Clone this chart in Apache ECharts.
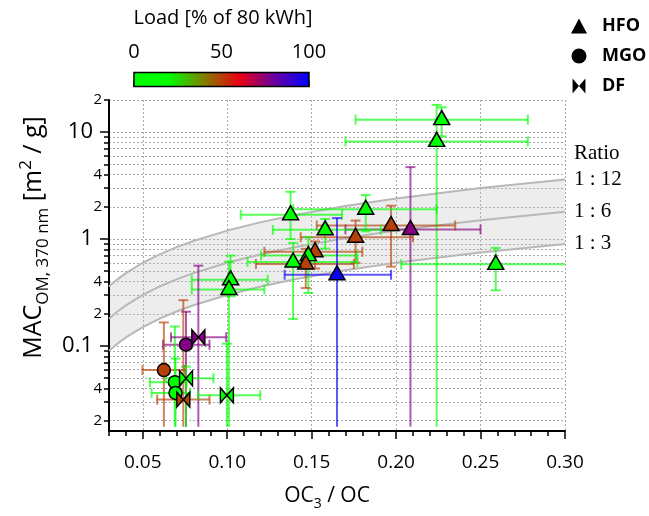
<!DOCTYPE html>
<html lang="en">
<head>
    <meta charset="utf-8">
    <title>MAC vs OC3/OC</title>
    <script src="https://cdn.jsdelivr.net/npm/echarts@6/dist/echarts.min.js"></script>
</head>
<body style="margin:0;">

<div id="main" style="width:649px;height:516px;"></div>

<script type="text/javascript">

    // HFO (triangles)
    var hfoOC   = [0.227, 0.224, 0.2085, 0.197, 0.182, 0.1375, 0.158, 0.176, 0.152, 0.148, 0.1465, 0.139, 0.165, 0.102, 0.101, 0.259];
    var hfoMAC  = [13.1, 8.2, 1.23, 1.34, 1.90, 1.69, 1.22, 1.04, 0.76, 0.70, 0.585, 0.61, 0.463, 0.416, 0.337, 0.58];
    var hfoLoad = [10, 10, 76, 50, 10, 10, 10, 50, 50, 10, 50, 10, 98, 10, 10, 10];
    var hfoOCRange  = [[0.176,0.278],[0.170,0.278],[0.170,0.250],[0.153,0.235],[0.139,0.224],[0.108,0.168],[0.127,0.191],[0.1435,0.210],
                       [0.122,0.180],[0.120,0.177],[0.117,0.175],[0.112,0.177],[0.134,0.197],[0.079,0.124],[0.079,0.122],[0.203,0.32]];
    var hfoMACRange = [[9.15,17.1],[0.0175,18.0],[0.0175,4.71],[0.552,2.05],[1.18,2.58],[1.0,2.77],[0.814,1.54],[0.60,1.49],
                       [0.53,0.95],[0.313,1.04],[0.348,0.81],[0.179,0.92],[0.0175,1.57],[0.292,0.70],[0.0175,0.614],[0.332,0.826]];

    // MGO (circles)
    var mgoOC   = [0.0756, 0.0625, 0.069, 0.0694];
    var mgoMAC  = [0.1026, 0.0594, 0.0458, 0.0363];
    var mgoLoad = [76, 50, 10, 10];
    var mgoOCRange  = [[0.062,0.0895],[0.0498,0.075],[0.0542,0.076],[0.0552,0.078]];
    var mgoMACRange = [[0.0175,0.209],[0.0175,0.166],[0.0175,0.152],[0.0175,0.0762]];

    // DF (bowties)
    var dfOC   = [0.0829, 0.0756, 0.074, 0.0998];
    var dfMAC  = [0.1205, 0.0499, 0.0315, 0.0345];
    var dfLoad = [76, 10, 50, 10];
    var dfOCRange  = [[0.0667,0.0994],[0.0637,0.0918],[0.0585,0.0895],[0.0827,0.1196]];
    var dfMACRange = [[0.0175,0.564],[0.0175,0.064],[0.0175,0.268],[0.0175,0.105]];

    // ratio curves 1:3, 1:6, 1:12
    var ratioX  = [0.03, 0.035, 0.04, 0.05, 0.06, 0.07, 0.08, 0.10, 0.12, 0.14, 0.17, 0.20, 0.25, 0.30];
    var ratio3  = [0.09, 0.105, 0.12, 0.15, 0.18, 0.21, 0.24, 0.30, 0.36, 0.42, 0.51, 0.60, 0.75, 0.90];
    var ratio6  = [0.18, 0.21, 0.24, 0.30, 0.36, 0.42, 0.48, 0.60, 0.72, 0.84, 1.02, 1.20, 1.50, 1.80];
    var ratio12 = [0.36, 0.42, 0.48, 0.60, 0.72, 0.84, 0.96, 1.20, 1.44, 1.68, 2.04, 2.40, 3.00, 3.60];

    // ticks
    var xMajorTicks = [0.05, 0.10, 0.15, 0.20, 0.25, 0.30];
    var xMinorTicks = [0.03,0.04,0.06,0.07,0.08,0.09,0.11,0.12,0.13,0.14,0.16,0.17,0.18,0.19,
                       0.21,0.22,0.23,0.24,0.26,0.27,0.28,0.29];
    var yMajorTicks = [0.1, 1, 10];
    var yMinorTicks = [0.02,0.03,0.04,0.05,0.06,0.07,0.08,0.09,0.2,0.3,0.4,0.5,0.6,0.7,0.8,0.9,
                       2,3,4,5,6,7,8,9,20];
    var yLabelVals = [0.02, 0.04, 0.1, 0.2, 0.4, 1, 2, 4, 10, 20];
    var yLabelText = ['2', '4', '0.1', '2', '4', '1', '2', '4', '10', '2'];

    // load colour scale (0 .. 100 %)
    var loadColors = ['#00ff00', '#00ff00', '#7f8000', '#ec0012', '#6a00a0', '#0000ff'];

    var FONT = 'Open Sans';
    var bowtie = 'path://M0,0L6,7L0,14ZM12,0L6,7L12,14Z';

    function rows(xs, ys, loads, xr, yr) {
        var out = [];
        for (var i = 0; i < xs.length; i++) {
            out.push([xs[i], ys[i], loads[i], xr[i][0], xr[i][1], yr[i][0], yr[i][1]]);
        }
        return out;
    }
    function points(xs, ys, loads) {
        var out = [];
        for (var i = 0; i < xs.length; i++) out.push([xs[i], ys[i], loads[i]]);
        return out;
    }

    function renderErr(params, api) {
        var x = api.value(0), y = api.value(1);
        var l = api.coord([api.value(3), y]);
        var r = api.coord([api.value(4), y]);
        var b = api.coord([x, api.value(5)]);
        var t = api.coord([x, api.value(6)]);
        var st = {stroke: api.visual('color'), lineWidth: 2, opacity: 0.65};
        var c = 5;
        var kids = [
            {type: 'line', shape: {x1: l[0], y1: l[1], x2: r[0], y2: r[1]}, style: st},
            {type: 'line', shape: {x1: b[0], y1: b[1], x2: t[0], y2: t[1]}, style: st},
            {type: 'line', shape: {x1: l[0], y1: l[1] - c, x2: l[0], y2: l[1] + c}, style: st},
            {type: 'line', shape: {x1: r[0], y1: r[1] - c, x2: r[0], y2: r[1] + c}, style: st},
            {type: 'line', shape: {x1: t[0] - c, y1: t[1], x2: t[0] + c, y2: t[1]}, style: st}
        ];
        if (api.value(5) >= 0.02) {
            kids.push({type: 'line', shape: {x1: b[0] - c, y1: b[1], x2: b[0] + c, y2: b[1]}, style: st});
        }
        return {type: 'group', children: kids};
    }

    function renderBand(params, api) {
        var pts = [];
        for (var i = 0; i < ratioX.length; i++) pts.push(api.coord([ratioX[i], ratio12[i]]));
        for (var j = ratioX.length - 1; j >= 0; j--) pts.push(api.coord([ratioX[j], ratio3[j]]));
        return {type: 'polygon', shape: {points: pts}, style: {fill: 'rgba(190,190,190,0.28)', stroke: null}};
    }

    function renderBar(params, api) {
        var p0 = api.coord([0, 1]);
        var p1 = api.coord([100, 0]);
        var stops = [];
        for (var i = 0; i < loadColors.length; i++) {
            stops.push({offset: i / (loadColors.length - 1), color: loadColors[i]});
        }
        return {
            type: 'rect',
            shape: {x: p0[0], y: p0[1], width: p1[0] - p0[0], height: p1[1] - p0[1]},
            style: {fill: new echarts.graphic.LinearGradient(0, 0, 1, 0, stops), stroke: '#000', lineWidth: 1.5}
        };
    }

    function ratioLine(name, data) {
        var d = [];
        for (var i = 0; i < ratioX.length; i++) d.push([ratioX[i], data[i]]);
        return {
            name: name, type: 'line', data: d, showSymbol: false, silent: true, z: 1,
            lineStyle: {color: '#b8b8b8', width: 2},
            endLabel: {show: true, formatter: name, distance: 9, fontFamily: 'Liberation Serif', fontSize: 21, color: '#000'},
            animation: false
        };
    }

    function yLabel(v) {
        var best = 0;
        for (var i = 1; i < yLabelVals.length; i++) {
            if (Math.abs(Math.log(v / yLabelVals[i])) < Math.abs(Math.log(v / yLabelVals[best]))) best = i;
        }
        var big = yMajorTicks.indexOf(yLabelVals[best]) >= 0;
        return big ? '{big|' + yLabelText[best] + '}' : '{small|' + yLabelText[best] + '}';
    }

    var myChart = echarts.init(document.getElementById('main'));

    var axisLine = {show: true, lineStyle: {color: '#000', width: 2}};
    var gridLine = {show: true, lineStyle: {color: '#a8a8a8', width: 1, type: [2, 2]}};

    option = {
        backgroundColor: '#fff',
        animation: false,
        textStyle: {fontFamily: FONT, color: '#000'},
        graphic: [
            {type: 'text', x: 223, y: 18, style: {text: 'Load [% of 80 kWh]', align: 'center', verticalAlign: 'middle',
                fontFamily: FONT, fontSize: 20, fill: '#000'}},
            {type: 'text', x: 574, y: 153, style: {text: 'Ratio', align: 'left', verticalAlign: 'middle',
                fontFamily: 'Liberation Serif', fontSize: 21, fill: '#000'}}
        ],
        legend: {
            orient: 'vertical', left: 566, top: 12, itemWidth: 16, itemHeight: 15, itemGap: 12,
            selectedMode: false,
            textStyle: {fontFamily: FONT, fontSize: 18, fontWeight: 'bold', color: '#000', padding: [0, 0, 0, 10]},
            data: [
                {name: 'HFO', icon: 'triangle', itemStyle: {color: '#000', borderWidth: 0}},
                {name: 'MGO', icon: 'circle', itemStyle: {color: '#000', borderWidth: 0}},
                {name: 'DF', icon: bowtie, itemStyle: {color: '#000', borderWidth: 0}}
            ]
        },
        visualMap: {
            type: 'continuous', show: false, min: 0, max: 100, dimension: 2,
            seriesIndex: [4, 5, 6, 7, 8, 9],
            inRange: {color: loadColors}
        },
        grid: [
            {left: 109, right: 84, top: 100, bottom: 79},
            {left: 134, top: 72.5, width: 175, height: 14}
        ],
        xAxis: [
            {
                type: 'value', gridIndex: 0, min: 0.03, max: 0.30, position: 'bottom',
                axisLine: axisLine,
                axisTick: {show: true, customValues: xMajorTicks, length: 8, lineStyle: {color: '#000', width: 1.5}},
                axisLabel: {customValues: xMajorTicks, fontSize: 19, margin: 22, color: '#000',
                    formatter: function (v) { return v.toFixed(2); }},
                splitLine: gridLine,
                name: '{b|OC}{sub|3}{b| / OC}',
                nameLocation: 'middle', nameGap: 50,
                nameTextStyle: {padding: [0, 20, 0, 0], rich: {
                    b: {fontFamily: FONT, fontSize: 21, lineHeight: 30, color: '#000'},
                    sub: {fontFamily: FONT, fontSize: 14, lineHeight: 14, verticalAlign: 'bottom', color: '#000'}
                }}
            },
            {
                type: 'value', gridIndex: 0, min: 0.03, max: 0.30, position: 'bottom',
                axisLine: {show: false},
                axisTick: {show: true, customValues: xMinorTicks, length: 5, lineStyle: {color: '#000', width: 1.5}},
                axisLabel: {show: false}, splitLine: {show: false}
            },
            {
                type: 'value', gridIndex: 1, min: 0, max: 100, interval: 50, position: 'top',
                axisLine: {show: false},
                axisTick: {show: true, length: 6, lineStyle: {color: '#000', width: 1.5}},
                minorTick: {show: true, splitNumber: 5, length: 4, lineStyle: {color: '#000', width: 1.5}},
                axisLabel: {fontSize: 20, margin: 10, color: '#000'},
                splitLine: {show: false}
            }
        ],
        yAxis: [
            {
                type: 'log', logBase: 10, gridIndex: 0, min: 0.016, max: 20, position: 'left',
                axisLine: axisLine,
                axisTick: {show: true, customValues: yMajorTicks, length: 9, lineStyle: {color: '#000', width: 1.5}},
                axisLabel: {customValues: yLabelVals, margin: 7, formatter: yLabel, color: '#000',
                    rich: {big: {fontSize: 22, padding: [0, 9, 0, 0], fontFamily: FONT},
                           small: {fontSize: 15, fontFamily: FONT}}},
                splitLine: gridLine,
                name: '{b|MAC}{sub|OM, 370 nm}{b| [m}{sup|2}{b| / g]}',
                nameLocation: 'middle', nameRotate: 90, nameGap: 57,
                nameTextStyle: {padding: [0, 0, 0, 56], rich: {
                    b: {fontFamily: FONT, fontSize: 25, lineHeight: 34, color: '#000'},
                    sub: {fontFamily: FONT, fontSize: 17, lineHeight: 17, verticalAlign: 'bottom', color: '#000'},
                    sup: {fontFamily: FONT, fontSize: 17, lineHeight: 17, verticalAlign: 'top', color: '#000'}
                }}
            },
            {
                type: 'log', logBase: 10, gridIndex: 0, min: 0.016, max: 20, position: 'left',
                axisLine: {show: false},
                axisTick: {show: true, customValues: yMinorTicks, length: 5, lineStyle: {color: '#000', width: 1.5}},
                axisLabel: {show: false},
                splitLine: gridLine
            },
            {type: 'value', gridIndex: 1, min: 0, max: 1, show: false}
        ],
        series: [
            {type: 'custom', name: 'band', renderItem: renderBand, data: [[ratioX[0], ratio3[0]]], silent: true, z: 0},
            ratioLine('1 : 3', ratio3),
            ratioLine('1 : 6', ratio6),
            ratioLine('1 : 12', ratio12),
            {type: 'custom', name: 'HFO err', renderItem: renderErr, clip: true, data: rows(hfoOC, hfoMAC, hfoLoad, hfoOCRange, hfoMACRange)},
            {type: 'custom', name: 'MGO err', renderItem: renderErr, clip: true, data: rows(mgoOC, mgoMAC, mgoLoad, mgoOCRange, mgoMACRange)},
            {type: 'custom', name: 'DF err', renderItem: renderErr, clip: true, data: rows(dfOC, dfMAC, dfLoad, dfOCRange, dfMACRange)},
            {type: 'scatter', name: 'HFO', symbol: 'triangle', symbolSize: [16, 14], symbolOffset: [0, -2], z: 5,
                itemStyle: {borderColor: '#000', borderWidth: 1.5, opacity: 1}, data: points(hfoOC, hfoMAC, hfoLoad)},
            {type: 'scatter', name: 'MGO', symbol: 'circle', symbolSize: 13, z: 5,
                itemStyle: {borderColor: '#000', borderWidth: 1.5, opacity: 1}, data: points(mgoOC, mgoMAC, mgoLoad)},
            {type: 'scatter', name: 'DF', symbol: bowtie, symbolSize: [13, 15], z: 5,
                itemStyle: {borderColor: '#000', borderWidth: 1.5, opacity: 1}, data: points(dfOC, dfMAC, dfLoad)},
            {type: 'custom', name: 'loadbar', xAxisIndex: 2, yAxisIndex: 2, renderItem: renderBar, data: [[0, 0]], silent: true}
        ]
    };

    myChart.setOption(option);

</script>
</body>
</html>
